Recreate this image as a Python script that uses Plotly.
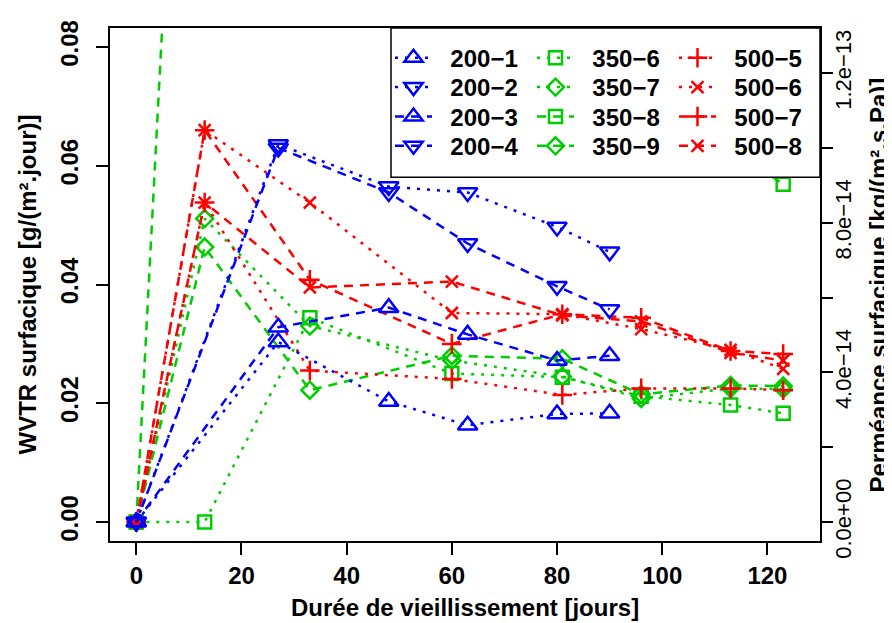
import plotly.graph_objects as go

# ---------------- data ----------------
days_200 = [0, 27, 48, 63, 80, 90]
days_350_500 = [0, 13, 33, 60, 81, 96, 113, 123]

wvtr_200_1 = [0, 0.0303, 0.0203, 0.0163, 0.0182, 0.0183]
wvtr_200_2 = [0, 0.0636, 0.0565, 0.0555, 0.0497, 0.0455]
wvtr_200_3 = [0, 0.0328, 0.0361, 0.0316, 0.0272, 0.0280]
wvtr_200_4 = [0, 0.0630, 0.0555, 0.0469, 0.0397, 0.0358]

wvtr_350_6 = [0, 0.0000, 0.0344, 0.0250, 0.0244, 0.0212, 0.0197, 0.0183]
wvtr_350_7 = [0, 0.0511, 0.0330, 0.0272, 0.0245, 0.0208, 0.0225, 0.0224]
wvtr_350_8 = [0, 0.2200, 0.1300, 0.1100, 0.1000, 0.0900, 0.0630, 0.0569]
wvtr_350_9 = [0, 0.0463, 0.0222, 0.0280, 0.0275, 0.0215, 0.0230, 0.0229]

wvtr_500_5 = [0, 0.0538, 0.0255, 0.0241, 0.0214, 0.0225, 0.0225, 0.0222]
wvtr_500_6 = [0, 0.0660, 0.0538, 0.0352, 0.0350, 0.0325, 0.0290, 0.0258]
wvtr_500_7 = [0, 0.0660, 0.0408, 0.0300, 0.0350, 0.0344, 0.0288, 0.0283]
wvtr_500_8 = [0, 0.0538, 0.0395, 0.0405, 0.0348, 0.0338, 0.0285, 0.0272]

x_ticks = [0, 20, 40, 60, 80, 100, 120]
y_ticks = [0, 0.02, 0.04, 0.06, 0.08]
y_tick_text = ["0.00", "0.02", "0.04", "0.06", "0.08"]
perm_ticks = [0, 2e-14, 4e-14, 6e-14, 8e-14, 1e-13, 1.2e-13]
perm_tick_text = ["0.0e+00", "", "4.0e\u221214", "", "8.0e\u221214", "", "1.2e\u221213"]

x_title = "Durée de vieillissement [jours]"
y_title = "WVTR surfacique [g/(m².jour)]"
y2_title = "Perméance surfacique [kg/(m².s.Pa)]"

# ratio between right (permeance) and left (WVTR) scales
perm_per_wvtr = 1.587e-12
x_range = [-5, 130]
y_range = [-0.0032, 0.0832]

# ---------------- styles / layout helpers ----------------
BLUE = "#0000FF"
GREEN = "#00CD00"
RED = "#FF0000"
DOT = "3px,7px"
DASH = "9px,7px"
FONT = "Liberation Sans, Arial, sans-serif"
FS = 24       # tick labels / legend
FT = 24       # axis titles

# plot area in pixels
PL, PR, PT, PB = 102, 812, 14, 533
PW, PH = PR - PL, PB - PT


def px_x(p):
    return (p - PL) / PW


def px_y(p):
    return (PB - p) / PH


NB = "\u00a0\u00a0"

# name, x, y, color, symbol, dash, size, legend row, legend rank (column)
series_350 = [
    ("350\u22126", days_350_500, wvtr_350_6, GREEN, "square-open", DOT, 13, "legend", 2),
    ("350\u22127", days_350_500, wvtr_350_7, GREEN, "diamond-open", DOT, 13, "legend2", 2),
    ("350\u22128", days_350_500, wvtr_350_8, GREEN, "square-open", DASH, 13, "legend3", 2),
    ("350\u22129", days_350_500, wvtr_350_9, GREEN, "diamond-open", DASH, 13, "legend4", 2),
]
series_500 = [
    ("500\u22125", days_350_500, wvtr_500_5, RED, "cross-thin-open", DOT, 14, "legend", 3),
    ("500\u22126", days_350_500, wvtr_500_6, RED, "x-thin-open", DOT, 12, "legend2", 3),
    ("500\u22127", days_350_500, wvtr_500_7, RED, "cross-thin-open", DASH, 14, "legend3", 3),
    ("500\u22128", days_350_500, wvtr_500_8, RED, "x-thin-open", DASH, 12, "legend4", 3),
]
series_200 = [
    ("200\u22121", days_200, wvtr_200_1, BLUE, "triangle-up-open", DOT, 17, "legend", 1),
    ("200\u22122", days_200, wvtr_200_2, BLUE, "triangle-down-open", DOT, 17, "legend2", 1),
    ("200\u22123", days_200, wvtr_200_3, BLUE, "triangle-up-open", DASH, 17, "legend3", 1),
    ("200\u22124", days_200, wvtr_200_4, BLUE, "triangle-down-open", DASH, 17, "legend4", 1),
]

fig = go.Figure()
for name, xs, ys, col, sym, dash, size, leg, rank in series_350 + series_500 + series_200:
    fig.add_trace(go.Scatter(
        x=xs, y=ys, name=NB + name, mode="lines+markers",
        legend=leg, legendrank=rank,
        line=dict(color=col, width=2.5, dash=dash),
        marker=dict(symbol=sym, size=size, color=col,
                    line=dict(color=col, width=2.5)),
    ))

# invisible trace carrying the permeance scale on the right axis
fig.add_trace(go.Scatter(
    x=days_200, y=[v * perm_per_wvtr for v in wvtr_200_1], yaxis="y2",
    mode="lines", line=dict(width=0), opacity=0, showlegend=False,
    hoverinfo="skip",
))

row_centers = [44.5, 74.2, 103.9, 133.6]
legend_common = dict(
    orientation="h", xanchor="left", x=px_x(382), yanchor="middle",
    bgcolor="rgba(0,0,0,0)", borderwidth=0,
    font=dict(family=FONT, size=FS, color="black", weight="bold"),
    entrywidth=90, entrywidthmode="pixels", itemwidth=37,
    traceorder="normal",
)

fig.update_layout(
    width=892, height=623,
    margin=dict(l=PL, r=892 - PR, t=PT, b=623 - PB),
    paper_bgcolor="white", plot_bgcolor="white",
    font=dict(family=FONT, size=FS, color="black"),
    showlegend=True,
    legend=dict(legend_common, y=px_y(row_centers[0])),
    legend2=dict(legend_common, y=px_y(row_centers[1])),
    legend3=dict(legend_common, y=px_y(row_centers[2])),
    legend4=dict(legend_common, y=px_y(row_centers[3])),
    xaxis=dict(
        range=x_range, tickvals=x_ticks, ticks="outside", ticklen=12,
        tickwidth=1.5, tickcolor="black", showline=True, linecolor="black",
        linewidth=1.5, mirror=True, showgrid=False, zeroline=False,
        tickfont=dict(family=FONT, size=FS, weight="bold"),
    ),
    yaxis=dict(
        range=y_range, tickvals=y_ticks, ticktext=y_tick_text,
        ticks="outside", ticklen=12, tickwidth=1.5, tickcolor="black",
        showline=True, linecolor="black", linewidth=1.5, mirror=True,
        showgrid=False, zeroline=False, tickangle=-90,
        ticklabelstandoff=9,
        tickfont=dict(family=FONT, size=FS, weight="bold"),
    ),
    yaxis2=dict(
        overlaying="y", side="right", anchor="x",
        range=[y_range[0] * perm_per_wvtr, y_range[1] * perm_per_wvtr],
        tickvals=perm_ticks, ticktext=perm_tick_text,
        ticks="outside", ticklen=11, tickwidth=1.5, tickcolor="black",
        showline=True, linecolor="black", linewidth=1.5,
        showgrid=False, zeroline=False, tickangle=-90,
        ticklabelstandoff=-8,
        tickfont=dict(family=FONT, size=22),
    ),
    shapes=[
        dict(type="rect", xref="paper", yref="paper", layer="above",
             x0=px_x(383), x1=1, y0=px_y(165), y1=1,
             fillcolor="white", line=dict(color="black", width=1.5)),
    ],
    annotations=[
        dict(text=f"<b>{x_title}</b>", xref="paper", yref="paper",
             x=0.5, y=px_y(600), xanchor="center", yanchor="middle",
             showarrow=False, font=dict(family=FONT, size=FT)),
        dict(text=f"<b>{y_title}</b>", xref="paper", yref="paper",
             x=px_x(19), y=0.5, xanchor="center", yanchor="middle",
             textangle=-90, showarrow=False, font=dict(family=FONT, size=FT)),
        dict(text=f"<b>{y2_title}</b>", xref="paper", yref="paper",
             x=px_x(870), y=0.5, xanchor="center", yanchor="middle",
             textangle=-90, showarrow=False, font=dict(family=FONT, size=FT)),
    ],
)

fig.write_html("out.html")
